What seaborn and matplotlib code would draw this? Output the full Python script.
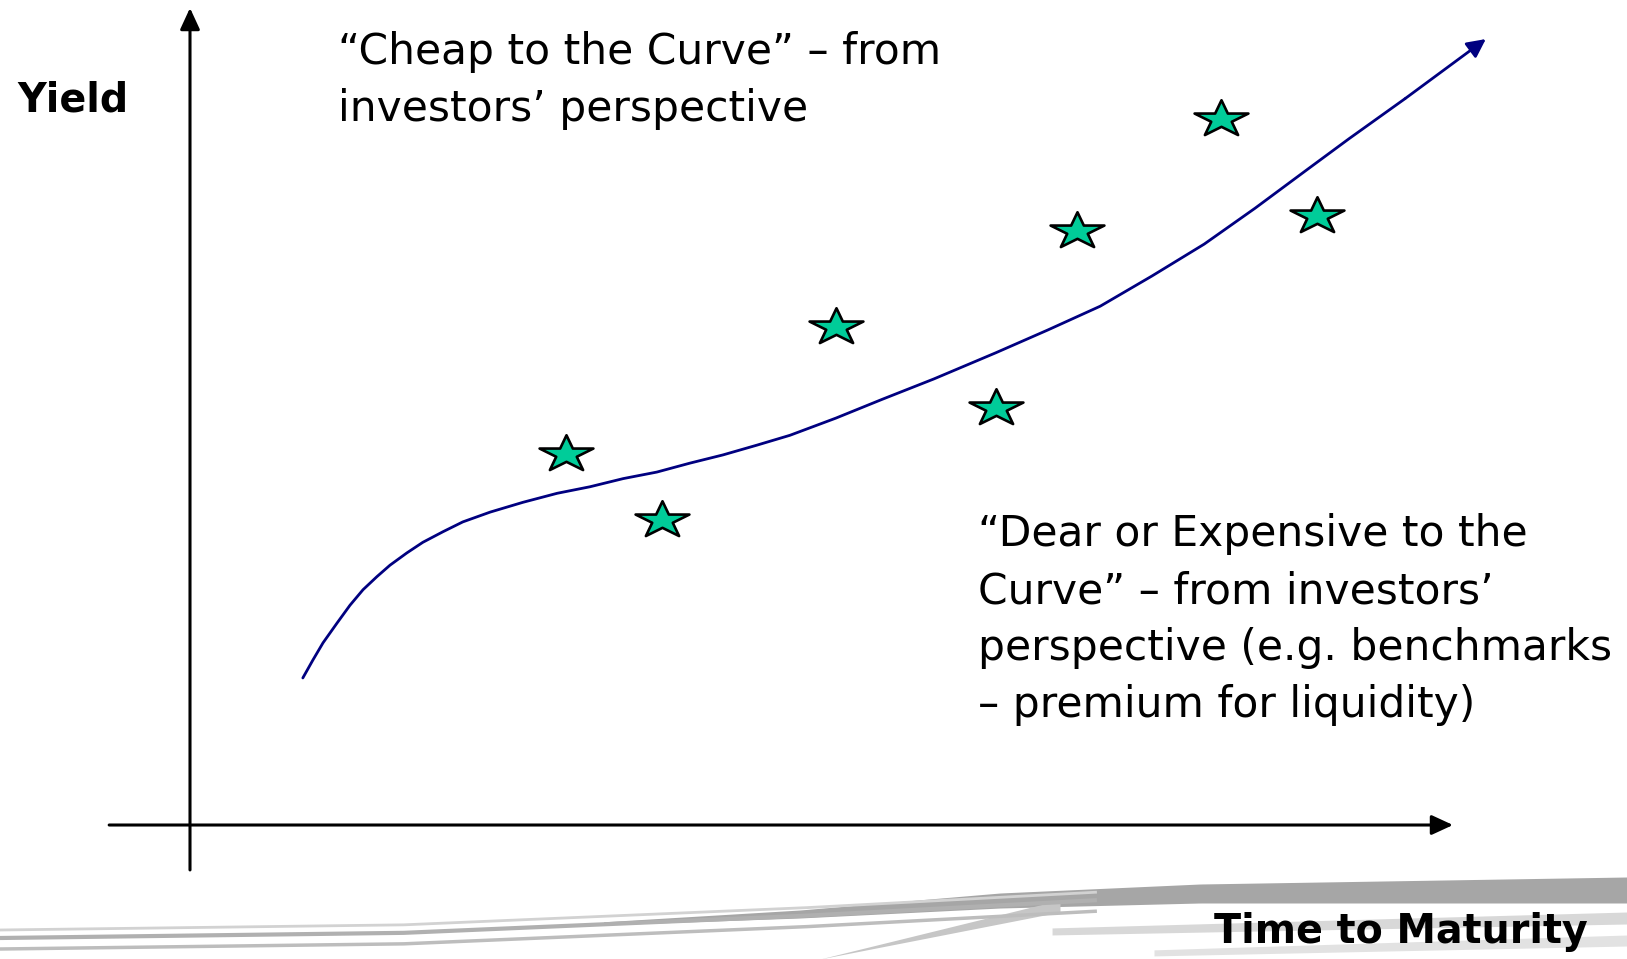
import numpy as np
import matplotlib
matplotlib.use("Agg")
import matplotlib.pyplot as plt
from matplotlib.path import Path
from matplotlib.patches import ArrowStyle
import seaborn as sns

# Benchmark yield curve (maturity in years, yield in %)
curve_maturity = [2.68, 2.92, 3.16, 3.49, 3.80, 4.11, 4.44, 4.75, 5.15, 5.53,
                  6.01, 6.48, 7.13, 7.91, 8.72, 9.50, 10.29, 11.09, 11.88,
                  12.66, 13.47, 14.25, 15.34, 16.44, 17.67, 19.14, 20.38,
                  21.62, 22.85, 24.09, 25.30, 26.53, 27.53, 28.86, 30.78]
curve_yield = [1.80, 2.02, 2.23, 2.47, 2.69, 2.88, 3.04, 3.18, 3.33, 3.46,
               3.59, 3.71, 3.83, 3.95, 4.06, 4.14, 4.24, 4.32, 4.43,
               4.53, 4.65, 4.77, 4.98, 5.21, 5.46, 5.78, 6.06,
               6.35, 6.72, 7.11, 7.55, 8.02, 8.40, 8.89, 9.62]

# Individual bonds scattered around the curve
bond_maturity = [8.93, 11.21, 15.34, 19.14, 21.07, 24.49, 26.77]
bond_yield = [4.54, 3.73, 6.10, 5.10, 7.27, 8.64, 7.45]

# Axis extents
x_axis = [-1.92, 30.0]
y_axis = [-0.55, 10.0]

# Text
y_label = "Yield"
x_label = "Time to Maturity"
cheap_lines = ["\u201cCheap to the Curve\u201d \u2013 from",
               "investors\u2019 perspective"]
dear_lines = ["\u201cDear or Expensive to the",
              "Curve\u201d \u2013 from investors\u2019",
              "perspective (e.g. benchmarks",
              "\u2013 premium for liquidity)"]

sns.set_theme(style="white")
plt.rcParams["font.family"] = ["DejaVu Sans"]

W, H = 1627, 959
fig = plt.figure(figsize=(W / 100, H / 100), dpi=100)
fig.patch.set_facecolor("white")

# Decorative grey swoosh along the bottom edge (pixel space)
deco = fig.add_axes([0, 0, 1, 1], zorder=0)
deco.set_xlim(0, W)
deco.set_ylim(H, 0)
deco.axis("off")
xs = np.linspace(0, W, 400)
top = np.interp(xs, [600, 800, 1000, 1200, 1627], [922, 910, 893, 884, 877])
bot = np.interp(xs, [600, 800, 1000, 1200, 1627], [925, 918, 908, 903, 903])
deco.fill_between(xs, top, bot, where=xs > 600, color="#a6a6a6", lw=0)
for off, col, lw in [(0, "#b0b0b0", 3.0), (11, "#bdbdbd", 2.5), (-8, "#d2d2d2", 2.0)]:
    ly = np.interp(xs, [0, 400, 800, 1100], [938, 933, 916, 900]) + off
    deco.plot(xs[xs < 1100], ly[xs < 1100], color=col, lw=lw,
              solid_capstyle="butt")
deco.fill_between([820, 1060], [959, 900], [959, 912], color="#c6c6c6", lw=0)
deco.fill_between(xs, np.interp(xs, [1050, 1627], [928, 912]),
                  np.interp(xs, [1050, 1627], [935, 924]),
                  where=xs > 1050, color="#d8d8d8", lw=0)
deco.fill_between(xs, np.interp(xs, [1150, 1627], [950, 935]),
                  np.interp(xs, [1150, 1627], [956, 946]),
                  where=xs > 1150, color="#e2e2e2", lw=0)

# Main drawing area: data coordinates with the origin at the axes crossing
ax = fig.add_axes([0, 0, 1, 1], zorder=1)
ax.patch.set_alpha(0)
ax.set_xlim(-4.513, 34.133)
ax.set_ylim(-1.640, 10.098)
ax.axis("off")

axis_style = ArrowStyle("-|>", head_length=0.65, head_width=0.3)
ax.annotate("", xy=(x_axis[1], 0), xytext=(x_axis[0], 0),
            arrowprops=dict(arrowstyle=axis_style, color="black", lw=2.2,
                            mutation_scale=20, shrinkA=0, shrinkB=0))
ax.annotate("", xy=(0, y_axis[1]), xytext=(0, y_axis[0]),
            arrowprops=dict(arrowstyle=axis_style, color="black", lw=2.2,
                            mutation_scale=20, shrinkA=0, shrinkB=0))

# Yield curve with arrow tip on the last segment
navy = "#000080"
sns.lineplot(x=curve_maturity[:-1], y=curve_yield[:-1], sort=False,
             estimator=None, color=navy, linewidth=2.0, ax=ax)
ax.lines[-1].set_solid_joinstyle("round")
ax.annotate("", xy=(curve_maturity[-1], curve_yield[-1]),
            xytext=(curve_maturity[-2], curve_yield[-2]),
            arrowprops=dict(arrowstyle=ArrowStyle("-|>", head_length=0.7,
                                                  head_width=0.35),
                            color=navy, lw=2.0, mutation_scale=16,
                            shrinkA=0, shrinkB=0))

# Wide five-pointed star marker
ang_outer = np.deg2rad(90 + 72 * np.arange(5))
ang_inner = ang_outer + np.deg2rad(36)
pts = []
for ao, ai in zip(ang_outer, ang_inner):
    pts.append((np.cos(ao), np.sin(ao)))
    pts.append((0.382 * np.cos(ai), 0.382 * np.sin(ai)))
pts = np.array(pts)
pts[:, 0] *= 1.47
pts = np.vstack([pts, pts[:1]])
codes = [Path.MOVETO] + [Path.LINETO] * (len(pts) - 2) + [Path.CLOSEPOLY]
star = Path(pts, codes)

sns.scatterplot(x=bond_maturity, y=bond_yield, marker=star, s=1500,
                color="#00cc99", edgecolor="black", linewidth=1.9,
                ax=ax, zorder=5)

# Labels and annotations
def put(px, py, s, **kw):
    fig.text(px / W, 1 - py / H, s, va="baseline", ha="left",
             color="black", **kw)

put(17, 112, y_label, fontsize=28.5, fontweight="bold")
put(1214, 943, x_label, fontsize=28.5, fontweight="bold")
for i, line in enumerate(cheap_lines):
    put(338, 64 + 57 * i, line, fontsize=30.5)
for i, line in enumerate(dear_lines):
    put(978, 546 + 57 * i, line, fontsize=30.5)

fig.savefig("out.png", dpi=100, facecolor="white")
